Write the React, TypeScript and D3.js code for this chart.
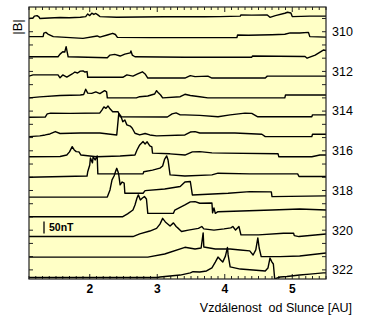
import * as d3 from 'd3';

// one trace per day of year, top to bottom
const DAYS = [309, 310, 311, 312, 313, 314, 315, 316, 317, 318, 319, 320, 321, 322];
const DAY_LABELS = [310, 312, 314, 316, 318, 320, 322];
const AU_LABELS = [2, 3, 4, 5];

// [distance from Sun in AU, |B| above the quiet level in nT]
const B309: [number, number][] = [[1.10,0],[1.16,2],[1.18,10],[1.22,12],[1.25,6],[1.26,0],[1.40,2],[1.56,4],[1.70,3],[1.86,5],[1.94,8],[1.97,19],[2.00,12],[2.03,22],[2.06,17],[2.09,21],[2.12,15],[2.15,8],[2.40,5],[2.74,6],[3.10,7],[3.41,8],[3.70,7],[3.93,8],[4.23,10],[4.24,15],[4.40,14],[4.63,15],[4.67,5],[4.75,12],[4.89,22],[4.93,26],[4.98,23],[5.00,8],[5.26,10],[5.50,10]];
const B310: [number, number][] = [[1.10,7],[1.31,8],[1.32,22],[1.35,25],[1.38,18],[1.46,7],[1.90,0],[2.11,10],[2.15,5],[2.26,14],[2.34,21],[2.38,16],[2.41,4],[2.90,3],[3.41,3],[4.18,3],[4.19,14],[4.35,13],[4.52,14],[4.70,15],[4.89,17],[4.97,23],[5.11,22],[5.24,25],[5.26,7],[5.50,5]];
const B311: [number, number][] = [[1.10,6],[1.53,6],[1.56,17],[1.60,27],[1.63,26],[1.65,48],[1.66,34],[1.68,6],[2.26,2],[2.30,13],[2.37,16],[2.45,9],[2.52,17],[2.60,22],[2.61,30],[2.63,13],[2.67,6],[3.41,4],[4.40,4],[4.41,9],[4.80,8],[5.19,7],[5.22,0],[5.34,13],[5.46,34],[5.50,32]];
const B312: [number, number][] = [[1.10,8],[1.16,13],[1.53,13],[1.56,1],[1.60,13],[1.66,4],[1.74,17],[1.78,25],[1.82,21],[1.86,29],[1.90,30],[1.93,25],[1.96,27],[1.97,3],[2.49,3],[2.55,13],[2.64,8],[2.71,17],[2.78,26],[2.82,17],[2.86,0],[3.41,0],[3.49,10],[3.56,6],[3.75,8],[3.81,0],[4.60,0],[4.63,8],[5.50,8]];
const B313: [number, number][] = [[1.10,0],[1.26,4],[1.56,10],[1.86,12],[1.91,14],[1.94,36],[1.97,20],[2.03,19],[2.09,25],[2.15,18],[2.19,25],[2.22,30],[2.25,25],[2.26,0],[2.69,0],[2.74,5],[2.86,8],[2.96,16],[2.99,30],[3.02,20],[3.05,12],[3.08,0],[3.34,5],[3.41,15],[3.49,10],[3.63,5],[3.75,0],[4.89,0],[4.90,12],[5.50,12]];
const B314: [number, number][] = [[1.10,2],[1.34,3],[1.37,16],[1.42,19],[1.71,18],[2.15,20],[2.18,32],[2.21,45],[2.24,39],[2.27,49],[2.30,37],[2.34,25],[2.42,25],[2.45,4],[3.15,3],[3.22,16],[3.28,20],[3.34,12],[3.41,12],[3.63,10],[3.90,4],[4.08,12],[4.30,19],[4.40,18],[4.49,4],[5.29,4],[5.30,12],[5.50,12]];
const B315: [number, number][] = [[1.10,4],[1.26,7],[1.34,11],[1.41,15],[1.49,25],[1.56,17],[1.86,19],[2.15,19],[2.40,11],[2.43,101],[2.46,90],[2.49,66],[2.52,73],[2.55,53],[2.60,48],[2.63,39],[2.67,18],[2.74,11],[2.82,17],[2.89,11],[2.99,7],[3.41,11],[3.49,23],[3.56,25],[3.63,19],[4.15,19],[4.55,14],[4.60,4],[5.29,4],[5.30,14],[5.50,14]];
const B316: [number, number][] = [[1.10,3],[1.56,4],[1.66,10],[1.70,23],[1.74,45],[1.77,31],[1.80,24],[1.84,23],[1.87,10],[2.10,3],[2.45,6],[2.67,10],[2.70,31],[2.74,52],[2.79,66],[2.82,56],[2.85,65],[2.89,48],[2.92,44],[2.93,18],[3.19,15],[3.41,10],[3.52,23],[3.63,24],[3.81,19],[4.00,18],[4.79,15],[4.80,3],[5.29,3],[5.41,10],[5.50,10]];
const B317: [number, number][] = [[1.10,0],[1.96,5],[1.97,23],[2.00,51],[2.01,80],[2.04,60],[2.05,85],[2.08,72],[2.11,89],[2.12,14],[2.79,14],[2.80,23],[2.93,30],[3.04,38],[3.08,47],[3.11,76],[3.14,89],[3.16,72],[3.19,10],[3.41,5],[3.81,10],[3.90,17],[4.37,14],[5.08,14],[5.10,3],[5.50,3]];
const B318: [number, number][] = [[1.10,0],[2.26,0],[2.30,30],[2.33,72],[2.36,88],[2.39,113],[2.40,120],[2.42,105],[2.43,93],[2.45,51],[2.48,63],[2.51,58],[2.52,16],[2.79,16],[2.82,27],[3.11,34],[3.34,44],[3.41,63],[3.49,65],[3.52,9],[4.05,16],[4.37,23],[4.69,22],[4.70,2],[5.50,5]];
const B319: [number, number][] = [[1.10,1],[2.49,1],[2.56,13],[2.64,29],[2.67,50],[2.70,79],[2.72,92],[2.75,71],[2.78,79],[2.81,85],[2.84,75],[2.86,15],[3.24,15],[3.26,29],[3.41,50],[3.49,63],[3.56,64],[3.63,57],[3.81,58],[3.82,17],[3.84,38],[3.86,15],[3.90,22],[4.70,29],[5.11,33],[5.50,29]];
const B320: [number, number][] = [[1.10,1],[2.64,1],[2.74,12],[2.89,24],[2.99,35],[3.04,53],[3.08,77],[3.12,62],[3.19,45],[3.24,58],[3.28,43],[3.32,33],[3.36,22],[3.46,28],[3.61,35],[3.66,43],[3.69,33],[3.84,28],[3.99,33],[4.09,37],[4.12,43],[4.16,28],[4.21,43],[4.24,8],[4.50,8],[4.87,15],[5.02,15],[5.03,5],[5.10,1],[5.50,12]];
const B321: [number, number][] = [[1.10,-2],[2.86,-2],[3.11,11],[3.41,39],[3.56,32],[3.65,36],[3.68,99],[3.69,40],[3.86,32],[4.08,32],[4.23,28],[4.37,24],[4.42,7],[4.46,28],[4.49,78],[4.51,36],[4.54,0],[4.82,0],[5.11,3],[5.50,15]];
const B322: [number, number][] = [[1.10,-4],[3.00,-4],[3.04,-2],[3.19,2],[3.34,6],[3.49,15],[3.53,20],[3.63,19],[3.73,23],[3.81,36],[3.86,60],[3.90,81],[3.94,69],[3.97,60],[4.01,85],[4.04,121],[4.05,90],[4.08,40],[4.23,31],[4.42,27],[4.60,23],[4.64,35],[4.67,77],[4.70,60],[4.72,52],[4.74,-10],[4.82,-2],[4.92,0],[5.11,6],[5.26,10],[5.46,15],[5.50,15]];

const TRACES = [B309, B310, B311, B312, B313, B314, B315, B316, B317, B318, B319, B320, B321, B322];

const SCALE_BAR_NT = 50;

const W = 369;
const H = 322;
const M = { left: 29, right: 326, top: 7, bottom: 279 };
const BG = '#ffffc6';
const FONT = '"Liberation Sans", Arial, sans-serif';

export default function App() {
  const x = d3.scaleLinear().domain([1.1, 5.5]).range([M.left, M.right]);
  const yDay = d3.scaleLinear().domain([309, 322]).range([18.5, 276.5]);
  const bPx = d3.scaleLinear().domain([0, SCALE_BAR_NT]).range([0, 12]);

  const line = (day: number) =>
    d3.line<[number, number]>()
      .x((d) => x(d[0]))
      .y((d) => yDay(day) - bPx(d[1]));

  const minorAU = d3.range(11, 56).map((v) => v / 10);
  // day ticks every 16 h; labels sit a third of a day above their trace
  const dayTicks = d3.range(0, 21).map((k) => 308.333 + (k * 2) / 3)
    .filter((d) => yDay(d) > M.top + 2 && yDay(d) < M.bottom - 2);

  return (
    <div style={{ position: 'fixed', left: 0, top: 0 }}>
      <svg width={W} height={H} style={{ display: 'block', background: '#fff' }}>
        <defs>
          <clipPath id="plot">
            <rect x={M.left} y={M.top} width={M.right - M.left} height={M.bottom - M.top} />
          </clipPath>
        </defs>
        <rect x={M.left} y={M.top} width={M.right - M.left} height={M.bottom - M.top} fill={BG} />

        {/* AU ticks, top and bottom */}
        {minorAU.map((v) => {
          const major = Math.abs(v - Math.round(v)) < 1e-6;
          const len = major ? 5 : 3;
          return (
            <g key={v} stroke="#222" strokeWidth={1}>
              <line x1={x(v)} x2={x(v)} y1={M.bottom} y2={M.bottom - len} />
              <line x1={x(v)} x2={x(v)} y1={M.top} y2={M.top + len} />
            </g>
          );
        })}

        {/* day ticks, left and right */}
        {dayTicks.map((d) => (
          <g key={d} stroke="#222" strokeWidth={1}>
            <line x1={M.left} x2={M.left + 4} y1={yDay(d)} y2={yDay(d)} />
            <line x1={M.right} x2={M.right - 4} y1={yDay(d)} y2={yDay(d)} />
          </g>
        ))}

        <g clipPath="url(#plot)">
          {TRACES.map((t, i) => (
            <path key={DAYS[i]} d={line(DAYS[i])(t) ?? ''} fill="none" stroke="#000"
              strokeWidth={1.4} strokeLinejoin="round" />
          ))}
        </g>

        <rect x={M.left} y={M.top} width={M.right - M.left} height={M.bottom - M.top}
          fill="none" stroke="#222" strokeWidth={1.2} />

        {/* scale bar */}
        <line x1={44} x2={44} y1={233.5} y2={233.5 - bPx(SCALE_BAR_NT)} stroke="#000" strokeWidth={1.3} />
        <text x={49} y={231} fontFamily={FONT} fontSize={10.5} fontWeight="bold">{SCALE_BAR_NT}nT</text>

        {DAY_LABELS.map((d) => (
          <text key={d} x={332} y={yDay(d - 1 / 3)} dy="0.35em" fontFamily={FONT} fontSize={12.5}>
            {d}
          </text>
        ))}

        {AU_LABELS.map((v) => (
          <text key={v} x={x(v)} y={289} dy="0.35em" textAnchor="middle" fontFamily={FONT}
            fontSize={12} fontWeight="bold">
            {v}
          </text>
        ))}

        <text x={352} y={308} dy="0.35em" textAnchor="end" fontFamily={FONT} fontSize={12.5}>
          {'Vzdálenost\u00a0\u00a0od Slunce [AU]'}
        </text>

        <text transform="translate(17,27) rotate(-90)" dy="0.35em" textAnchor="middle"
          fontFamily={FONT} fontSize={13}>
          |B|
        </text>
      </svg>
    </div>
  );
}
